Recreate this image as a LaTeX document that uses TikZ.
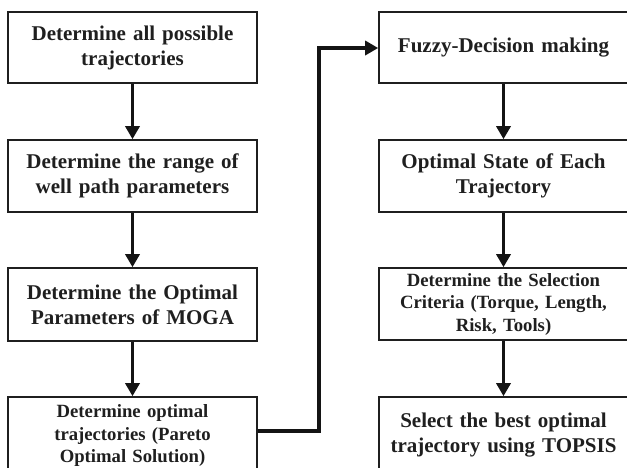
\documentclass[tikz,border=0pt]{standalone}
\usepackage{fontspec}
\setmainfont{Liberation Serif}
\usetikzlibrary{arrows.meta}
\tikzset{
  box/.style={draw=black!88, line width=1.6pt, minimum width=249pt, text width=244pt, align=center, inner sep=0pt, font=\bfseries\fontsize{21}{25}\selectfont, text=black!88},
  smallbox/.style={box, font=\bfseries\fontsize{18.7}{22.5}\selectfont},
  flow/.style={draw=black!92, line width=3.8pt, -{Triangle[width=14pt,length=13pt]}},
}
\begin{document}
\begin{tikzpicture}[x=1pt,y=-1pt]
\useasboundingbox (0,0) rectangle (627,467);
\node[box, minimum height=71pt] (l1) at (132.5,47.5) {Determine all possible\\trajectories};
\node[box, minimum height=72pt] (l2) at (132.5,176) {Determine the range of\\well path parameters};
\node[box, minimum height=73pt] (l3) at (132.5,304.5) {Determine the Optimal\\Parameters of MOGA};
\node[smallbox, minimum height=77pt] (l4) at (132.5,435.5) {Determine optimal\\trajectories (Pareto\\Optimal Solution)};
\node[box, minimum height=71pt] (r1) at (503.5,47.5) {Fuzzy-Decision making};
\node[box, minimum height=72pt] (r2) at (503.5,176) {Optimal State of Each\\Trajectory};
\node[smallbox, minimum height=72pt] (r3) at (503.5,304) {Determine the Selection\\Criteria (Torque, Length,\\Risk, Tools)};
\node[box, minimum height=77pt] (r4) at (503.5,435.5) {Select the best optimal\\trajectory using TOPSIS};
\coordinate (c1) at (319,431);
\coordinate (c2) at (319,48);
\draw[flow] (l1.south) -- (l2.north);
\draw[flow] (l2.south) -- (l3.north);
\draw[flow] (l3.south) -- (l4.north);
\draw[flow] (r1.south) -- (r2.north);
\draw[flow] (r2.south) -- (r3.north);
\draw[flow] (r3.south) -- (r4.north);
\draw[flow] (l4.east |- c1) -- (c1) -- (c2) -- (r1.west |- c2);
\end{tikzpicture}
\end{document}
